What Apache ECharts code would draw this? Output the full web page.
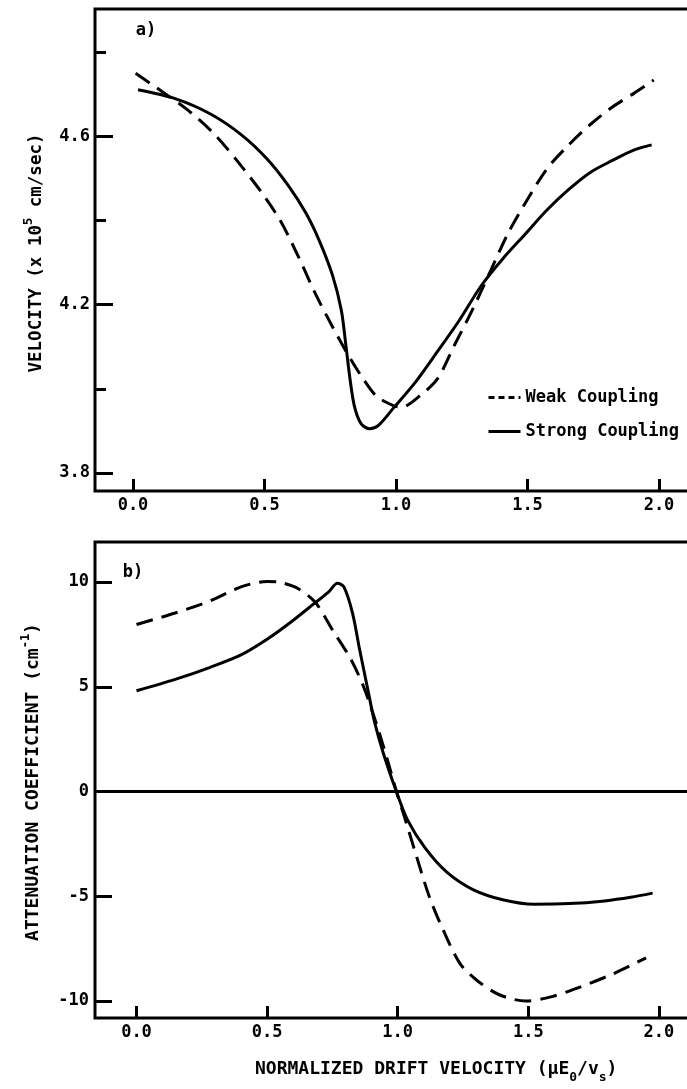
<!DOCTYPE html>
<html>
<head>
<meta charset="utf-8">
<script src="https://cdn.jsdelivr.net/npm/echarts@6/dist/echarts.min.js"></script>
<style>
html,body{margin:0;padding:0;background:#fff;}
#chart{width:687px;height:1089px;}
</style>
</head>
<body>
<div id="chart"></div>
<script>
// ---- data ----
const xTicks = [0, 0.5, 1.0, 1.5, 2.0];
const velLabelTicks = [3.8, 4.2, 4.6];
const velMinorTicks = [4.0, 4.4, 4.8];
const attTicks = [-10, -5, 0, 5, 10];

// panel a) velocity (x 10^5 cm/sec)
const weakVelocity = [
  [0.01,4.750],[0.11,4.707],[0.21,4.662],[0.31,4.605],[0.40,4.539],[0.49,4.466],
  [0.56,4.400],[0.626,4.318],[0.692,4.228],[0.759,4.147],[0.825,4.073],[0.875,4.024],
  [0.925,3.983],[0.99,3.960],[1.02,3.956],[1.09,3.983],[1.158,4.024],[1.224,4.106],
  [1.29,4.187],[1.357,4.277],[1.424,4.367],[1.49,4.440],[1.574,4.523],[1.657,4.580],
  [1.74,4.629],[1.823,4.670],[1.906,4.703],[1.98,4.734]
];
const strongVelocity = [
  [0.019,4.711],[0.16,4.690],[0.293,4.654],[0.41,4.605],[0.509,4.547],[0.592,4.482],
  [0.659,4.416],[0.709,4.351],[0.759,4.269],[0.792,4.187],[0.809,4.106],[0.825,4.024],
  [0.842,3.958],[0.867,3.917],[0.90,3.905],[0.933,3.913],[0.99,3.954],[1.074,4.016],
  [1.158,4.089],[1.241,4.163],[1.324,4.245],[1.407,4.310],[1.49,4.367],[1.574,4.425],
  [1.657,4.474],[1.74,4.515],[1.823,4.543],[1.906,4.568],[1.972,4.580]
];

// panel b) attenuation coefficient (cm^-1)
const weakAttenuation = [
  [0.0,7.97],[0.148,8.52],[0.282,9.10],[0.40,9.77],[0.50,10.02],[0.55,9.98],
  [0.618,9.69],[0.685,9.02],[0.752,7.68],[0.819,6.35],[0.869,5.01],[0.92,3.17],
  [0.961,1.50],[0.995,0.0],[1.029,-1.34],[1.07,-3.01],[1.121,-5.02],[1.171,-6.52],
  [1.238,-8.20],[1.305,-9.03],[1.389,-9.70],[1.49,-10.0],[1.59,-9.79],[1.69,-9.37],
  [1.825,-8.70],[1.951,-7.94]
];
const strongAttenuation = [
  [0.0,4.81],[0.148,5.35],[0.282,5.93],[0.40,6.52],[0.50,7.27],[0.584,8.02],
  [0.676,8.93],[0.735,9.52],[0.769,9.94],[0.794,9.77],[0.827,8.52],[0.853,6.85],
  [0.886,4.84],[0.911,3.34],[0.945,1.83],[0.995,0.0],[1.037,-1.34],[1.104,-2.68],
  [1.188,-3.85],[1.288,-4.68],[1.406,-5.18],[1.523,-5.38],[1.657,-5.35],[1.792,-5.22],
  [1.892,-5.05],[1.976,-4.85]
];

// ---- chart ----
const FONT = '"DejaVu Sans Mono", "Liberation Mono", monospace';
const chart = echarts.init(document.getElementById('chart'), null, {renderer:'canvas'});

function xAx(gridIndex, min, max) {
  return {
    type:'value', gridIndex, min, max, position:'bottom',
    axisLine:{show:false, onZero:false},
    splitLine:{show:false},
    axisTick:{show:true, inside:true, length:12, customValues:xTicks, lineStyle:{color:'#000', width:3}},
    axisLabel:{customValues:xTicks, margin:6, color:'#000',
      fontFamily:FONT, fontWeight:'bold', fontSize:17,
      formatter:v => v.toFixed(1)}
  };
}
const yLabel = {color:'#000', fontFamily:FONT, fontWeight:'bold', fontSize:17};

const option = {
  backgroundColor:'#fff',
  animation:false,
  grid:[
    {left:95, top:9, width:597, height:482, outerBoundsMode:'none', containLabel:false,
      show:true, borderColor:'#000', borderWidth:3, backgroundColor:'transparent'},
    {left:95, top:542, width:597, height:476, outerBoundsMode:'none', containLabel:false,
      show:true, borderColor:'#000', borderWidth:3, backgroundColor:'transparent'}
  ],
  xAxis:[
    xAx(0, -0.1445, 2.1255),
    xAx(1, -0.1589, 2.1267)
  ],
  yAxis:[
    {type:'value', gridIndex:0, min:3.757, max:4.903, position:'left',
      axisLine:{show:false, onZero:false}, splitLine:{show:false},
      axisTick:{show:true, inside:true, length:18, customValues:velLabelTicks, lineStyle:{color:'#000', width:3}},
      axisLabel:Object.assign({customValues:velLabelTicks, margin:5, formatter:v => v.toFixed(1)}, yLabel)},
    {type:'value', gridIndex:0, min:3.757, max:4.903, position:'left',
      axisLine:{show:false, onZero:false}, splitLine:{show:false},
      axisTick:{show:true, inside:true, length:11, customValues:velMinorTicks, lineStyle:{color:'#000', width:3}},
      axisLabel:{show:false}},
    {type:'value', gridIndex:1, min:-10.81, max:11.91, position:'left',
      axisLine:{show:false, onZero:false}, splitLine:{show:false},
      axisTick:{show:true, inside:true, length:17, customValues:attTicks, lineStyle:{color:'#000', width:3}},
      axisLabel:Object.assign({customValues:attTicks, margin:6, formatter:v => String(v)}, yLabel)}
  ],
  legend:{
    left:482, top:384, orient:'vertical', itemWidth:32, itemHeight:14, itemGap:17,
    textStyle:{fontFamily:FONT, fontWeight:'bold', fontSize:17, color:'#000'},
    itemStyle:{opacity:0},
    data:[
      {name:'Weak Coupling', itemStyle:{opacity:0}, lineStyle:{type:[6,4], width:3, color:'#000'}},
      {name:'Strong Coupling', itemStyle:{opacity:0}, lineStyle:{type:'solid', width:3, color:'#000'}}
    ]
  },
  series:[
    {name:'Weak Coupling', type:'line', xAxisIndex:0, yAxisIndex:0, data:weakVelocity,
      symbol:'none', smooth:0.3, itemStyle:{color:'#000'}, lineStyle:{color:'#000', width:3, type:[17,9]}},
    {name:'Strong Coupling', type:'line', xAxisIndex:0, yAxisIndex:0, data:strongVelocity,
      symbol:'none', smooth:0.3, itemStyle:{color:'#000'}, lineStyle:{color:'#000', width:3, type:'solid'}},
    {name:'Weak Coupling', type:'line', xAxisIndex:1, yAxisIndex:2, data:weakAttenuation,
      symbol:'none', smooth:0.3, itemStyle:{color:'#000'}, lineStyle:{color:'#000', width:3, type:[17,9]}},
    {name:'Strong Coupling', type:'line', xAxisIndex:1, yAxisIndex:2, data:strongAttenuation,
      symbol:'none', smooth:0.3, itemStyle:{color:'#000'}, lineStyle:{color:'#000', width:3, type:'solid'},
      markLine:{silent:true, symbol:'none', label:{show:false},
        lineStyle:{color:'#000', width:3, type:'solid'}, data:[{yAxis:0}]}}
  ],
  graphic:[
    {type:'text', x:146, y:31, style:{text:'a)', font:'bold 17px ' + FONT, fill:'#000', align:'center', verticalAlign:'middle'}},
    {type:'text', x:133, y:573, style:{text:'b)', font:'bold 17px ' + FONT, fill:'#000', align:'center', verticalAlign:'middle'}},
    {type:'text', x:34, y:253, rotation:Math.PI/2,
      style:{text:'{a|VELOCITY (x 10}{s|5}{a| cm/sec)}', align:'center', verticalAlign:'middle', fill:'#000',
        rich:{a:{fontFamily:FONT, fontWeight:'bold', fontSize:17.5, lineHeight:18, verticalAlign:'bottom'},
              s:{fontFamily:FONT, fontWeight:'bold', fontSize:12, lineHeight:23, verticalAlign:'top'}}}},
    {type:'text', x:31, y:782, rotation:Math.PI/2,
      style:{text:'{a|ATTENUATION COEFFICIENT (cm}{s|-1}{a|)}', align:'center', verticalAlign:'middle', fill:'#000',
        rich:{a:{fontFamily:FONT, fontWeight:'bold', fontSize:18, lineHeight:18, verticalAlign:'bottom'},
              s:{fontFamily:FONT, fontWeight:'bold', fontSize:12, lineHeight:23, verticalAlign:'top'}}}},
    {type:'text', x:255, y:1060,
      style:{text:'{a|NORMALIZED DRIFT VELOCITY (μE}{b|0}{a|/v}{b|s}{a|)}', align:'left', verticalAlign:'top', fill:'#000',
        rich:{a:{fontFamily:FONT, fontWeight:'bold', fontSize:18, lineHeight:18, verticalAlign:'top'},
              b:{fontFamily:FONT, fontWeight:'bold', fontSize:13, lineHeight:24, verticalAlign:'bottom'}}}}
  ]
};
chart.setOption(option);
</script>
</body>
</html>
